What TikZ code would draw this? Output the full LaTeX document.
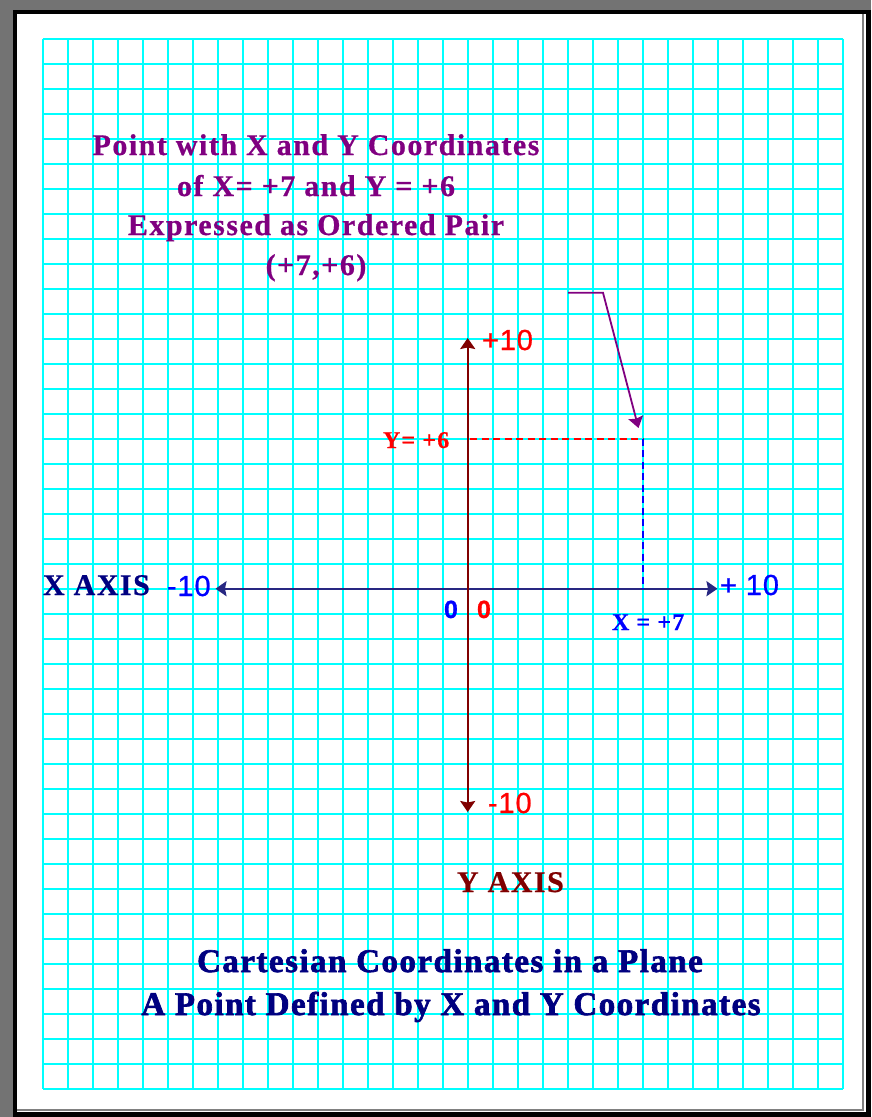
\documentclass[tikz,border=0pt]{standalone}
\usepackage{fontspec}
\setmainfont{Liberation Serif}
\newfontfamily\tbf[LetterSpace=5,FakeBold=0.6]{Liberation Serif}
\newfontfamily\hbf[LetterSpace=4.5,FakeBold=2]{Liberation Serif}
\newfontfamily\nsf[LetterSpace=3,FakeBold=0.8]{Liberation Sans}
\usetikzlibrary{arrows.meta}
\definecolor{gridcyan}{RGB}{0,255,255}
\definecolor{mypurple}{RGB}{128,0,128}
\definecolor{mynavy}{RGB}{0,0,128}
\definecolor{axisnavy}{RGB}{40,40,130}
\definecolor{mymaroon}{RGB}{128,0,0}
\definecolor{myred}{RGB}{255,0,0}
\definecolor{myblue}{RGB}{0,0,255}
\tikzset{
  myhead/.tip={Stealth[length=11pt,width=15pt,inset=1.5pt]},
  gridline/.style={draw=gridcyan, line width=2.3pt},
  axisline/.style={line width=2pt},
  dashline/.style={line width=1.8pt, dash pattern=on 7pt off 4.5pt},
  txt/.style={inner sep=0pt, outer sep=0pt},
  ptitle/.style={txt, anchor=base, text=mypurple, font=\tbf\bfseries\fontsize{30}{36}\selectfont},
  btitle/.style={txt, anchor=base, text=mynavy, font=\hbf\bfseries\fontsize{33}{40}\selectfont},
  axislabel/.style={txt, anchor=base west, font=\tbf\bfseries\fontsize{30}{36}\selectfont},
  numlabel/.style={txt, anchor=base west, font=\nsf\fontsize{29}{34}\selectfont},
  zerolabel/.style={txt, anchor=base west, font=\nsf\bfseries\fontsize{25}{30}\selectfont},
  smalllabel/.style={txt, anchor=base west, font=\tbf\bfseries\fontsize{24}{30}\selectfont}
}
\begin{document}
\begin{tikzpicture}[x=1pt,y=-1pt]
\useasboundingbox (0,0) rectangle (871,1117);
% frame
\fill[white] (0,0) rectangle (871,1117);
\fill[black!55] (0,0) rectangle (871,10);
\fill[black!55] (0,0) rectangle (13,1117);
\fill[black] (13,10) rectangle (866,13.5);
\fill[black] (13,10) rectangle (16.5,1117);
\fill[black] (866,10) rectangle (871,1117);
\fill[black] (13,1112) rectangle (871,1117);
\draw[gray, line width=1.2pt] (863,14) -- (863,1110) -- (16.5,1110);
% grid
\foreach \i in {0,...,32} \draw[gridline] (42.7+25*\i,38.7) -- (42.7+25*\i,1088.7);
\foreach \j in {0,...,42} \draw[gridline] (42.7,38.7+25*\j) -- (842.7,38.7+25*\j);
% key points
\coordinate (O) at (467.7,588.7);
\coordinate (xl) at (215.5,588.7);
\coordinate (xr) at (717.5,588.7);
\coordinate (yt) at (467.7,338);
\coordinate (yb) at (467.7,812);
\coordinate (P) at (642.7,438.7);
\coordinate (Yf) at (470,438.7);
\coordinate (Xf) at (642.7,588.7);
\coordinate (ps) at (568,292.7);
\coordinate (pb) at (603,292.7);
\coordinate (pt) at (638.5,428);
% axes
\draw[axisline, draw=axisnavy, myhead-myhead] (xl) -- (xr);
\draw[axisline, draw=mymaroon, myhead-myhead] (yb) -- (yt);
% projections
\draw[dashline, draw=myred] (Yf) -- (P);
\draw[dashline, draw=myblue] (P) -- (Xf);
% pointer
\draw[line width=1.8pt, draw=mypurple, -myhead] (ps) -- (pb) -- (pt);
% top text
\node[ptitle] (t1) at (316,155) {Point with X and Y Coordinates};
\node[ptitle] (t2) at (316,196) {of X= +7 and Y = +6};
\node[ptitle] (t3) at (316,235) {Expressed as Ordered Pair};
\node[ptitle] (t4) at (316,275) {(+7,+6)};
% axis labels
\node[numlabel, text=myred] (ytop) at (482,350) {+10};
\node[numlabel, text=myred] (ybot) at (488,813) {-10};
\node[numlabel, text=myblue] (xleft) at (167,596) {-10};
\node[numlabel, text=myblue] (xright) at (720,595) {+ 10};
\node[zerolabel, text=myblue] (zb) at (444,618) {0};
\node[zerolabel, text=myred] (zr) at (477,618) {0};
\node[smalllabel, text=myred] (ylab) at (383,448) {Y= +6};
\node[smalllabel, text=myblue] (xlab) at (612,630) {X = +7};
\node[axislabel, text=mynavy] (xaxis) at (43,595) {X AXIS};
\node[axislabel, text=mymaroon] (yaxis) at (457,892) {Y AXIS};
% bottom titles
\node[btitle] (b1) at (450,972) {Cartesian Coordinates in a Plane};
\node[btitle] (b2) at (451,1015) {A Point Defined by X and Y Coordinates};
\end{tikzpicture}
\end{document}
